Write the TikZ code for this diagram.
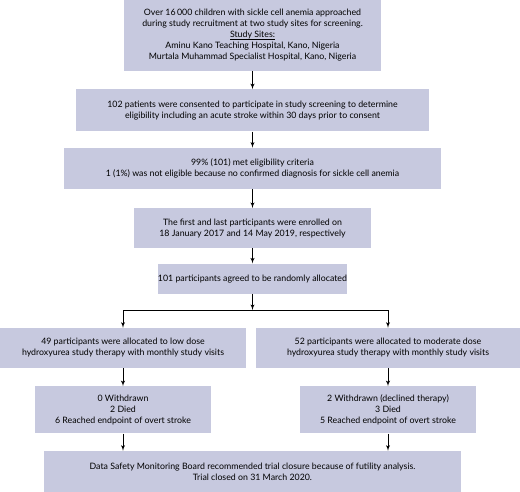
\documentclass[tikz,border=0pt]{standalone}
\usepackage{fontspec}
\setmainfont{Lato}
\usetikzlibrary{arrows, positioning}
\definecolor{boxfill}{RGB}{199,201,223}
\newcommand{\ulhead}[1]{\setbox0\hbox{#1}\leavevmode\rlap{\raisebox{-1.8pt}{\rule{\wd0}{0.7pt}}}\box0}

\begin{document}
\begin{tikzpicture}[
      x=1pt, y=1pt,
      node distance = 16pt,
      box/.style={rectangle, fill=boxfill, align=center, inner sep=0pt, font=\fontsize{8.8}{11}\selectfont},
      line/.style={draw, -latex', line width=0.9pt}
  ]
  \useasboundingbox (0,0) rectangle (520,-492);

  \node [box, minimum width=257pt, minimum height=71pt] (approach) at (252.5,-35.5) {Over 16\,000 children with sickle cell anemia approached\\during study recruitment at two study sites for screening.\\\ulhead{Study Sites:}\\Aminu Kano Teaching Hospital, Kano, Nigeria\\Murtala Muhammad Specialist Hospital, Kano, Nigeria};
  \node [box, minimum width=353pt, minimum height=42pt, below=18pt of approach] (consent) {102 patients were consented to participate in study screening to determine\\eligibility including an acute stroke within 30 days prior to consent};
  \node [box, minimum width=377pt, minimum height=41pt, below=16pt of consent] (eligible) {99\% (101) met eligibility criteria\\1 (1\%) was not eligible because no confirmed diagnosis for sickle cell anemia};
  \node [box, minimum width=237pt, minimum height=40pt, below=19pt of eligible] (enrol) {The first and last participants were enrolled on\\18 January 2017 and 14 May 2019, respectively};
  \node [box, minimum width=161pt, minimum height=30pt, below=15pt of enrol] (random) {101 participants agreed to be randomly allocated};
  \coordinate (split) at (252.5,-310);

  \node [box, minimum width=246pt, minimum height=40pt] (low) at (123,-348) {49 participants were allocated to low dose\\hydroxyurea study therapy with monthly study visits};
  \node [box, minimum width=264pt, minimum height=40pt] (moderate) at (388,-348) {52 participants were allocated to moderate dose\\hydroxyurea study therapy with monthly study visits};
  \node [box, minimum width=176pt, minimum height=47pt, below=18pt of low] (lowout) {0 Withdrawn\\2 Died\\6 Reached endpoint of overt stroke};
  \node [box, minimum width=176pt, minimum height=47pt, below=18pt of moderate] (modout) {2 Withdrawn (declined therapy)\\3 Died\\5 Reached endpoint of overt stroke};
  \node [box, minimum width=417pt, minimum height=41pt] (close) at (252.5,-471.5) {Data Safety Monitoring Board recommended trial closure because of futility analysis.\\Trial closed on 31 March 2020.};

  \path [line] (approach) -- (consent);
  \path [line] (consent) -- (eligible);
  \path [line] (eligible) -- (enrol);
  \path [line] (enrol) -- (random);
  \path [line] (random) -- (split);
  \path [line] (split) -| (low);
  \path [line] (split) -| (moderate);
  \path [line] (low) -- (lowout);
  \path [line] (moderate) -- (modout);
  \path [line] (lowout) -- (lowout.south |- close.north);
  \path [line] (modout) -- (modout.south |- close.north);

\end{tikzpicture}
\end{document}
